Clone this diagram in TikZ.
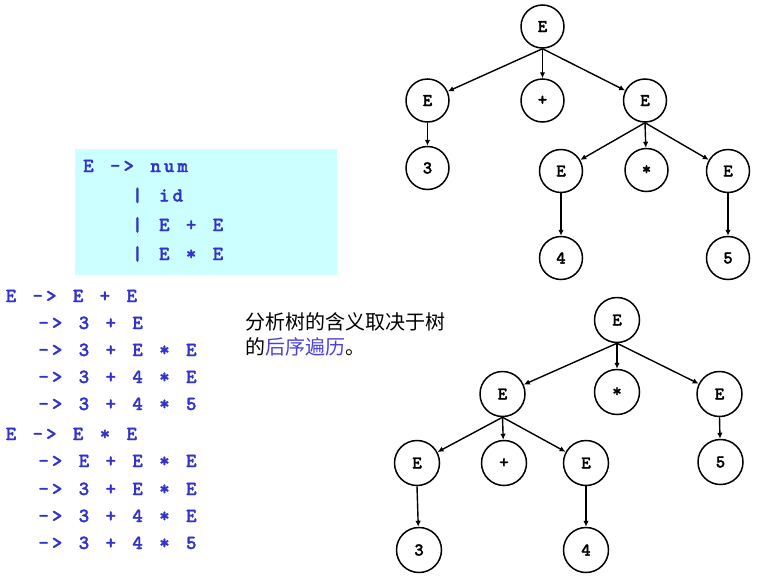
\documentclass[tikz,border=0pt]{standalone}
\usepackage{fontspec}
\usepackage{tikz}
\usetikzlibrary{
  arrows.meta,
  positioning
}
\newfontfamily\codefont{lmmonolt10-bold.otf}[LetterSpace=15, WordSpace=1.21, FakeBold=1.6]
\newfontfamily\labelfont{lmmonolt10-bold.otf}[FakeBold=1.6]
\newfontfamily\cjk{Noto Sans CJK SC}
\definecolor{ptblue}{RGB}{51,51,204}
\definecolor{ptviolet}{RGB}{75,65,225}
\definecolor{ptcyan}{RGB}{204,255,255}
\tikzset{
  ptNode/.style={
    circle,
    draw=black,
    line width=1.5pt,
    minimum size=43pt,
    inner sep=0pt,
    font=\labelfont\fontsize{18}{18}\selectfont
  },
  ptNodeBig/.style={
    ptNode,
    minimum size=45pt
  },
  ptArrow/.style={
    -{Latex[length=6pt,width=5.5pt]},
    line width=1.4pt
  },
  ptCode/.style={
    anchor=base west,
    inner sep=0pt,
    text=ptblue,
    font=\codefont\fontsize{20}{24}\selectfont
  },
  ptNote/.style={
    anchor=base west,
    inner sep=0pt,
    font=\cjk\fontsize{20}{25}\selectfont
  }
}
\begin{document}
\begin{tikzpicture}[x=1pt, y=-1pt]
  \useasboundingbox (0,0) rectangle (758,576);

  % grammar
  \node[fill=ptcyan, minimum width=262pt, minimum height=126pt,
    inner sep=0pt, anchor=north west] (grammar) at (75,149) {};
  \node[ptCode] (rule1) at (83,172) {E~->~num};
  \node[ptCode] (rule2) at (83,201.5) {~~~|~id};
  \node[ptCode] (rule3) at (83,231) {~~~|~E~+~E};
  \node[ptCode] (rule4) at (83,260) {~~~|~E~*~E};

  % derivations
  \foreach \y/\txt [count=\i] in {
      302/{E~->~E~+~E},
      329/{~~->~3~+~E},
      356/{~~->~3~+~E~*~E},
      383/{~~->~3~+~4~*~E},
      410/{~~->~3~+~4~*~5},
      440/{E~->~E~*~E},
      467/{~~->~E~+~E~*~E},
      495/{~~->~3~+~E~*~E},
      522/{~~->~3~+~4~*~E},
      549/{~~->~3~+~4~*~5}}
    \node[ptCode] (deriv\i) at (5.5,\y) {\txt};

  \node[ptNote] (note1) at (245,329.5) {分析树的含义取决于树};
  \node[ptNote] (note2) at (245,354.5)
    {的\textcolor{ptviolet}{后序遍历}。};

  % tree for E + (E * E)
  \node[ptNode] (t1) at (542.5,26.5) {E};
  \node[ptNode] (t1a) at (427.5,100.5) {E};
  \node[ptNode] (t1b) at (542.5,100.5) {+};
  \node[ptNode] (t1c) at (645,100.5) {E};
  \node[ptNode] (t1a1) at (427.5,168) {3};
  \node[ptNode] (t1c1) at (561,171) {E};
  \node[ptNode] (t1c2) at (646.5,170) {*};
  \node[ptNode] (t1c3) at (728,171) {E};
  \node[ptNode] (t1c1a) at (561,258) {4};
  \node[ptNode] (t1c3a) at (728,258) {5};

  \draw[ptArrow] (t1.south) -- (t1a);
  \draw[ptArrow] (t1.south) -- (t1b);
  \draw[ptArrow] (t1.south) -- (t1c);
  \draw[ptArrow] (t1a.south) -- (t1a1);
  \draw[ptArrow] (t1c.south) -- (t1c1);
  \draw[ptArrow] (t1c.south) -- (t1c2);
  \draw[ptArrow] (t1c.south) -- (t1c3);
  \draw[ptArrow] (t1c1.south) -- (t1c1a);
  \draw[ptArrow] (t1c3.south) -- (t1c3a);

  % tree for (E + E) * E
  \node[ptNodeBig] (t2) at (617,320) {E};
  \node[ptNodeBig] (t2a) at (502.5,394) {E};
  \node[ptNodeBig] (t2b) at (617,392) {*};
  \node[ptNodeBig] (t2c) at (719.5,394) {E};
  \node[ptNodeBig] (t2a1) at (417,463) {E};
  \node[ptNodeBig] (t2a2) at (504,463) {+};
  \node[ptNodeBig] (t2a3) at (586,463) {E};
  \node[ptNodeBig] (t2c1) at (720.5,462) {5};
  \node[ptNodeBig] (t2a1a) at (419,550) {3};
  \node[ptNodeBig] (t2a3a) at (586,550) {4};

  \draw[ptArrow] (t2.south) -- (t2a);
  \draw[ptArrow] (t2.south) -- (t2b);
  \draw[ptArrow] (t2.south) -- (t2c);
  \draw[ptArrow] (t2a.south) -- (t2a1);
  \draw[ptArrow] (t2a.south) -- (t2a2);
  \draw[ptArrow] (t2a.south) -- (t2a3);
  \draw[ptArrow] (t2a1.south) -- (t2a1a);
  \draw[ptArrow] (t2a3.south) -- (t2a3a);
  \draw[ptArrow] (t2c.south) -- (t2c1);
\end{tikzpicture}
\end{document}
